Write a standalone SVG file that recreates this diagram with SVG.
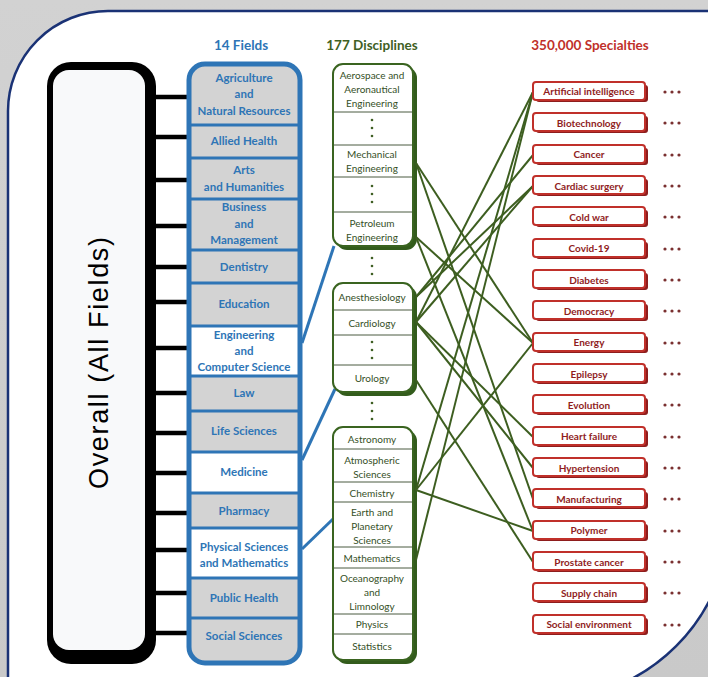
<svg xmlns="http://www.w3.org/2000/svg" width="708" height="677" viewBox="0 0 708 677">
<defs>
<linearGradient id="bg" x1="0" y1="0" x2="0" y2="1">
<stop offset="0" stop-color="#d2d2d2"/>
<stop offset="1" stop-color="#c9c9c9"/>
</linearGradient>
<clipPath id="fclip"><rect x="189" y="64" width="111" height="599" rx="16"/></clipPath>
<style>
.ft{font-family:Lato,"Liberation Sans",sans-serif;font-weight:bold;font-size:11.5px;fill:#2e75b6;text-anchor:middle}
.dt{font-family:Lato,"Liberation Sans",sans-serif;font-size:10px;fill:#35501f;text-anchor:middle}
.st{font-family:Lato,"Liberation Sans",sans-serif;font-weight:bold;font-size:10px;fill:#8f1d1d;text-anchor:middle}
.hd{font-family:Lato,"Liberation Sans",sans-serif;font-weight:bold;font-size:13.5px;text-anchor:middle}
.bar{stroke:#000;stroke-width:4.5}
.sep{stroke:#2e75b6;stroke-width:3}
.dsep{stroke:#4b5a40;stroke-width:1}
.dmain{fill:#fff;stroke:#3a6420;stroke-width:2}
.dshad{fill:#335c1c}
.smain{fill:#fff;stroke:#c0302a;stroke-width:2}
.sshad{fill:#8e1d1d}
.cn{stroke:#3d5e20;stroke-width:2;fill:none}
.bl{stroke:#2e75b6;stroke-width:3;fill:none}
.dot{fill:#7a3030}
.gd{fill:#3f5f24}
</style>
</defs>
<rect x="0" y="0" width="708" height="677" fill="url(#bg)"/>
<path d="M8 720 V111 A100 100 0 0 1 108 11 H730 V516 A184 184 0 0 1 546 700 Z" fill="#fff" stroke="#1a3275" stroke-width="2.5"/>

<g id="overall">
<rect x="47" y="62" width="109" height="602" rx="24" fill="#000"/>
<rect x="53" y="70" width="92" height="580" rx="16" fill="#f8f9fa"/>
<text transform="translate(108,363) rotate(-90)" font-family="'Liberation Sans',sans-serif" font-size="27" text-anchor="middle" textLength="252" lengthAdjust="spacing" fill="#000">Overall (All Fields)</text>
</g>

<g id="overall-links">
<line class="bar" x1="155" y1="97" x2="190" y2="97"/>
<line class="bar" x1="155" y1="137" x2="190" y2="137"/>
<line class="bar" x1="155" y1="180" x2="190" y2="180"/>
<line class="bar" x1="155" y1="226" x2="190" y2="226"/>
<line class="bar" x1="155" y1="267" x2="190" y2="267"/>
<line class="bar" x1="155" y1="302" x2="190" y2="302"/>
<line class="bar" x1="155" y1="348" x2="190" y2="348"/>
<line class="bar" x1="155" y1="393" x2="190" y2="393"/>
<line class="bar" x1="155" y1="433" x2="190" y2="433"/>
<line class="bar" x1="155" y1="473" x2="190" y2="473"/>
<line class="bar" x1="155" y1="513" x2="190" y2="513"/>
<line class="bar" x1="155" y1="550" x2="190" y2="550"/>
<line class="bar" x1="155" y1="593" x2="190" y2="593"/>
<line class="bar" x1="155" y1="633" x2="190" y2="633"/>
</g>

<text class="hd" x="241" y="50" fill="#2e75b6">14 Fields</text>
<text class="hd" x="372" y="50" fill="#3f5f24">177 Disciplines</text>
<text class="hd" x="590" y="50" fill="#c0302a">350,000 Specialties</text>

<g id="fields">
<g clip-path="url(#fclip)">
<rect x="189" y="64" width="111" height="599" fill="#d3d3d3"/>
<rect x="189" y="326" width="111" height="50" fill="#fff"/>
<rect x="189" y="452" width="111" height="41" fill="#fff"/>
<rect x="189" y="528" width="111" height="50" fill="#fff"/>
</g>
<line class="sep" x1="189" y1="125" x2="300" y2="125"/>
<line class="sep" x1="189" y1="158" x2="300" y2="158"/>
<line class="sep" x1="189" y1="199" x2="300" y2="199"/>
<line class="sep" x1="189" y1="250" x2="300" y2="250"/>
<line class="sep" x1="189" y1="283" x2="300" y2="283"/>
<line class="sep" x1="189" y1="326" x2="300" y2="326"/>
<line class="sep" x1="189" y1="376" x2="300" y2="376"/>
<line class="sep" x1="189" y1="411" x2="300" y2="411"/>
<line class="sep" x1="189" y1="452" x2="300" y2="452"/>
<line class="sep" x1="189" y1="493" x2="300" y2="493"/>
<line class="sep" x1="189" y1="528" x2="300" y2="528"/>
<line class="sep" x1="189" y1="578" x2="300" y2="578"/>
<line class="sep" x1="189" y1="618" x2="300" y2="618"/>
<rect x="189" y="64" width="111" height="599" rx="16" fill="none" stroke="#2e75b6" stroke-width="5"/>
<text class="ft" x="244" y="82">Agriculture</text>
<text class="ft" x="244" y="98">and</text>
<text class="ft" x="244" y="115">Natural Resources</text>
<text class="ft" x="244" y="145">Allied Health</text>
<text class="ft" x="244" y="174">Arts</text>
<text class="ft" x="244" y="191">and Humanities</text>
<text class="ft" x="244" y="211">Business</text>
<text class="ft" x="244" y="228">and</text>
<text class="ft" x="244" y="244">Management</text>
<text class="ft" x="244" y="271">Dentistry</text>
<text class="ft" x="244" y="308">Education</text>
<text class="ft" x="244" y="339">Engineering</text>
<text class="ft" x="244" y="355">and</text>
<text class="ft" x="244" y="371">Computer Science</text>
<text class="ft" x="244" y="397">Law</text>
<text class="ft" x="244" y="435">Life Sciences</text>
<text class="ft" x="244" y="476">Medicine</text>
<text class="ft" x="244" y="515">Pharmacy</text>
<text class="ft" x="244" y="551">Physical Sciences</text>
<text class="ft" x="244" y="567">and Mathematics</text>
<text class="ft" x="244" y="602">Public Health</text>
<text class="ft" x="244" y="640">Social Sciences</text>
</g>

<g id="field-links">
<line class="bl" x1="302" y1="343" x2="334" y2="246"/>
<line class="bl" x1="302" y1="460" x2="335" y2="389"/>
<line class="bl" x1="302" y1="549" x2="333" y2="519"/>
</g>

<g id="disc-engineering">
<rect class="dshad" x="336" y="67" width="81" height="183" rx="11"/>
<rect class="dmain" x="333" y="64" width="80" height="182" rx="10"/>
<line class="dsep" x1="334" y1="112" x2="412" y2="112"/>
<line class="dsep" x1="334" y1="145" x2="412" y2="145"/>
<line class="dsep" x1="334" y1="177" x2="412" y2="177"/>
<line class="dsep" x1="334" y1="212" x2="412" y2="212"/>
<text class="dt" x="372" y="79">Aerospace and</text>
<text class="dt" x="372" y="93">Aeronautical</text>
<text class="dt" x="372" y="107">Engineering</text>
<circle class="gd" cx="372" cy="120" r="1.3"/>
<circle class="gd" cx="372" cy="128" r="1.3"/>
<circle class="gd" cx="372" cy="136" r="1.3"/>
<text class="dt" x="372" y="158">Mechanical</text>
<text class="dt" x="372" y="172">Engineering</text>
<circle class="gd" cx="372" cy="186" r="1.3"/>
<circle class="gd" cx="372" cy="194" r="1.3"/>
<circle class="gd" cx="372" cy="202" r="1.3"/>
<text class="dt" x="372" y="227">Petroleum</text>
<text class="dt" x="372" y="241">Engineering</text>
</g>
<g id="gap-dots-1">
<circle class="gd" cx="372" cy="258" r="1.3"/>
<circle class="gd" cx="372" cy="266" r="1.3"/>
<circle class="gd" cx="372" cy="274" r="1.3"/>
</g>

<g id="disc-medicine">
<rect class="dshad" x="336" y="286" width="81" height="110" rx="11"/>
<rect class="dmain" x="333" y="283" width="80" height="109" rx="10"/>
<line class="dsep" x1="334" y1="310" x2="412" y2="310"/>
<line class="dsep" x1="334" y1="335" x2="412" y2="335"/>
<line class="dsep" x1="334" y1="365" x2="412" y2="365"/>
<text class="dt" x="372" y="301">Anesthesiology</text>
<text class="dt" x="372" y="327">Cardiology</text>
<circle class="gd" cx="372" cy="342" r="1.3"/>
<circle class="gd" cx="372" cy="350" r="1.3"/>
<circle class="gd" cx="372" cy="358" r="1.3"/>
<text class="dt" x="372" y="382">Urology</text>
</g>
<g id="gap-dots-2">
<circle class="gd" cx="372" cy="403" r="1.3"/>
<circle class="gd" cx="372" cy="411" r="1.3"/>
<circle class="gd" cx="372" cy="419" r="1.3"/>
</g>

<g id="disc-physical">
<rect class="dshad" x="336" y="430" width="81" height="234" rx="11"/>
<rect class="dmain" x="333" y="427" width="80" height="233" rx="10"/>
<line class="dsep" x1="334" y1="449" x2="412" y2="449"/>
<line class="dsep" x1="334" y1="482" x2="412" y2="482"/>
<line class="dsep" x1="334" y1="502" x2="412" y2="502"/>
<line class="dsep" x1="334" y1="547" x2="412" y2="547"/>
<line class="dsep" x1="334" y1="568" x2="412" y2="568"/>
<line class="dsep" x1="334" y1="614" x2="412" y2="614"/>
<line class="dsep" x1="334" y1="634" x2="412" y2="634"/>
<text class="dt" x="372" y="443">Astronomy</text>
<text class="dt" x="372" y="464">Atmospheric</text>
<text class="dt" x="372" y="478">Sciences</text>
<text class="dt" x="372" y="497">Chemistry</text>
<text class="dt" x="372" y="516">Earth and</text>
<text class="dt" x="372" y="530">Planetary</text>
<text class="dt" x="372" y="544">Sciences</text>
<text class="dt" x="372" y="562">Mathematics</text>
<text class="dt" x="372" y="582">Oceanography</text>
<text class="dt" x="372" y="596">and</text>
<text class="dt" x="372" y="610">Limnology</text>
<text class="dt" x="372" y="628">Physics</text>
<text class="dt" x="372" y="650">Statistics</text>
</g>

<g id="connectors">
<line class="cn" x1="416" y1="163" x2="533" y2="343"/>
<line class="cn" x1="416" y1="163" x2="533" y2="499"/>
<line class="cn" x1="416" y1="237" x2="533" y2="343"/>
<line class="cn" x1="416" y1="237" x2="533" y2="531"/>
<line class="cn" x1="416" y1="297" x2="533" y2="186"/>
<line class="cn" x1="416" y1="297" x2="533" y2="155"/>
<line class="cn" x1="416" y1="322" x2="533" y2="92"/>
<line class="cn" x1="416" y1="322" x2="533" y2="186"/>
<line class="cn" x1="416" y1="322" x2="533" y2="437"/>
<line class="cn" x1="416" y1="322" x2="533" y2="468"/>
<line class="cn" x1="416" y1="380" x2="533" y2="562"/>
<line class="cn" x1="416" y1="490" x2="533" y2="92"/>
<line class="cn" x1="416" y1="490" x2="533" y2="343"/>
<line class="cn" x1="416" y1="490" x2="533" y2="531"/>
<line class="cn" x1="416" y1="560" x2="533" y2="92"/>
</g>

<g id="sp-ai"><rect class="sshad" x="536" y="85" width="112" height="17" rx="3"/><rect class="smain" x="533" y="82" width="112" height="18" rx="3"/><text class="st" x="589" y="95">Artificial intelligence</text></g>
<g id="sp-biotech"><rect class="sshad" x="536" y="116" width="112" height="17" rx="3"/><rect class="smain" x="533" y="113" width="112" height="18" rx="3"/><text class="st" x="589" y="126.5">Biotechnology</text></g>
<g id="sp-cancer"><rect class="sshad" x="536" y="148" width="112" height="17" rx="3"/><rect class="smain" x="533" y="145" width="112" height="18" rx="3"/><text class="st" x="589" y="158">Cancer</text></g>
<g id="sp-cardiac"><rect class="sshad" x="536" y="179" width="112" height="17" rx="3"/><rect class="smain" x="533" y="176" width="112" height="18" rx="3"/><text class="st" x="589" y="189.5">Cardiac surgery</text></g>
<g id="sp-coldwar"><rect class="sshad" x="536" y="210" width="112" height="17" rx="3"/><rect class="smain" x="533" y="207" width="112" height="18" rx="3"/><text class="st" x="589" y="220.5">Cold war</text></g>
<g id="sp-covid"><rect class="sshad" x="536" y="242" width="112" height="17" rx="3"/><rect class="smain" x="533" y="239" width="112" height="18" rx="3"/><text class="st" x="589" y="252">Covid-19</text></g>
<g id="sp-diabetes"><rect class="sshad" x="536" y="273" width="112" height="17" rx="3"/><rect class="smain" x="533" y="270" width="112" height="18" rx="3"/><text class="st" x="589" y="283.5">Diabetes</text></g>
<g id="sp-democracy"><rect class="sshad" x="536" y="304" width="112" height="17" rx="3"/><rect class="smain" x="533" y="301" width="112" height="18" rx="3"/><text class="st" x="589" y="314.5">Democracy</text></g>
<g id="sp-energy"><rect class="sshad" x="536" y="336" width="112" height="17" rx="3"/><rect class="smain" x="533" y="333" width="112" height="18" rx="3"/><text class="st" x="589" y="346">Energy</text></g>
<g id="sp-epilepsy"><rect class="sshad" x="536" y="367" width="112" height="17" rx="3"/><rect class="smain" x="533" y="364" width="112" height="18" rx="3"/><text class="st" x="589" y="377.5">Epilepsy</text></g>
<g id="sp-evolution"><rect class="sshad" x="536" y="398" width="112" height="17" rx="3"/><rect class="smain" x="533" y="395" width="112" height="18" rx="3"/><text class="st" x="589" y="408.5">Evolution</text></g>
<g id="sp-heartfailure"><rect class="sshad" x="536" y="430" width="112" height="17" rx="3"/><rect class="smain" x="533" y="427" width="112" height="18" rx="3"/><text class="st" x="589" y="440">Heart failure</text></g>
<g id="sp-hypertension"><rect class="sshad" x="536" y="461" width="112" height="17" rx="3"/><rect class="smain" x="533" y="458" width="112" height="18" rx="3"/><text class="st" x="589" y="471.5">Hypertension</text></g>
<g id="sp-manufacturing"><rect class="sshad" x="536" y="492" width="112" height="17" rx="3"/><rect class="smain" x="533" y="489" width="112" height="18" rx="3"/><text class="st" x="589" y="502.5">Manufacturing</text></g>
<g id="sp-polymer"><rect class="sshad" x="536" y="524" width="112" height="17" rx="3"/><rect class="smain" x="533" y="521" width="112" height="18" rx="3"/><text class="st" x="589" y="534">Polymer</text></g>
<g id="sp-prostate"><rect class="sshad" x="536" y="555" width="112" height="17" rx="3"/><rect class="smain" x="533" y="552" width="112" height="18" rx="3"/><text class="st" x="589" y="565.5">Prostate cancer</text></g>
<g id="sp-supply"><rect class="sshad" x="536" y="586" width="112" height="17" rx="3"/><rect class="smain" x="533" y="583" width="112" height="18" rx="3"/><text class="st" x="589" y="596.5">Supply chain</text></g>
<g id="sp-social"><rect class="sshad" x="536" y="618" width="112" height="17" rx="3"/><rect class="smain" x="533" y="615" width="112" height="18" rx="3"/><text class="st" x="589" y="628">Social environment</text></g>

<g id="ellipses" class="dot">
<circle cx="665" cy="92" r="1.6"/><circle cx="672" cy="92" r="1.6"/><circle cx="679" cy="92" r="1.6"/>
<circle cx="665" cy="123" r="1.6"/><circle cx="672" cy="123" r="1.6"/><circle cx="679" cy="123" r="1.6"/>
<circle cx="665" cy="155" r="1.6"/><circle cx="672" cy="155" r="1.6"/><circle cx="679" cy="155" r="1.6"/>
<circle cx="665" cy="186" r="1.6"/><circle cx="672" cy="186" r="1.6"/><circle cx="679" cy="186" r="1.6"/>
<circle cx="665" cy="217" r="1.6"/><circle cx="672" cy="217" r="1.6"/><circle cx="679" cy="217" r="1.6"/>
<circle cx="665" cy="249" r="1.6"/><circle cx="672" cy="249" r="1.6"/><circle cx="679" cy="249" r="1.6"/>
<circle cx="665" cy="280" r="1.6"/><circle cx="672" cy="280" r="1.6"/><circle cx="679" cy="280" r="1.6"/>
<circle cx="665" cy="311" r="1.6"/><circle cx="672" cy="311" r="1.6"/><circle cx="679" cy="311" r="1.6"/>
<circle cx="665" cy="343" r="1.6"/><circle cx="672" cy="343" r="1.6"/><circle cx="679" cy="343" r="1.6"/>
<circle cx="665" cy="374" r="1.6"/><circle cx="672" cy="374" r="1.6"/><circle cx="679" cy="374" r="1.6"/>
<circle cx="665" cy="405" r="1.6"/><circle cx="672" cy="405" r="1.6"/><circle cx="679" cy="405" r="1.6"/>
<circle cx="665" cy="437" r="1.6"/><circle cx="672" cy="437" r="1.6"/><circle cx="679" cy="437" r="1.6"/>
<circle cx="665" cy="468" r="1.6"/><circle cx="672" cy="468" r="1.6"/><circle cx="679" cy="468" r="1.6"/>
<circle cx="665" cy="499" r="1.6"/><circle cx="672" cy="499" r="1.6"/><circle cx="679" cy="499" r="1.6"/>
<circle cx="665" cy="531" r="1.6"/><circle cx="672" cy="531" r="1.6"/><circle cx="679" cy="531" r="1.6"/>
<circle cx="665" cy="562" r="1.6"/><circle cx="672" cy="562" r="1.6"/><circle cx="679" cy="562" r="1.6"/>
<circle cx="665" cy="593" r="1.6"/><circle cx="672" cy="593" r="1.6"/><circle cx="679" cy="593" r="1.6"/>
<circle cx="665" cy="625" r="1.6"/><circle cx="672" cy="625" r="1.6"/><circle cx="679" cy="625" r="1.6"/>
</g>
</svg>
